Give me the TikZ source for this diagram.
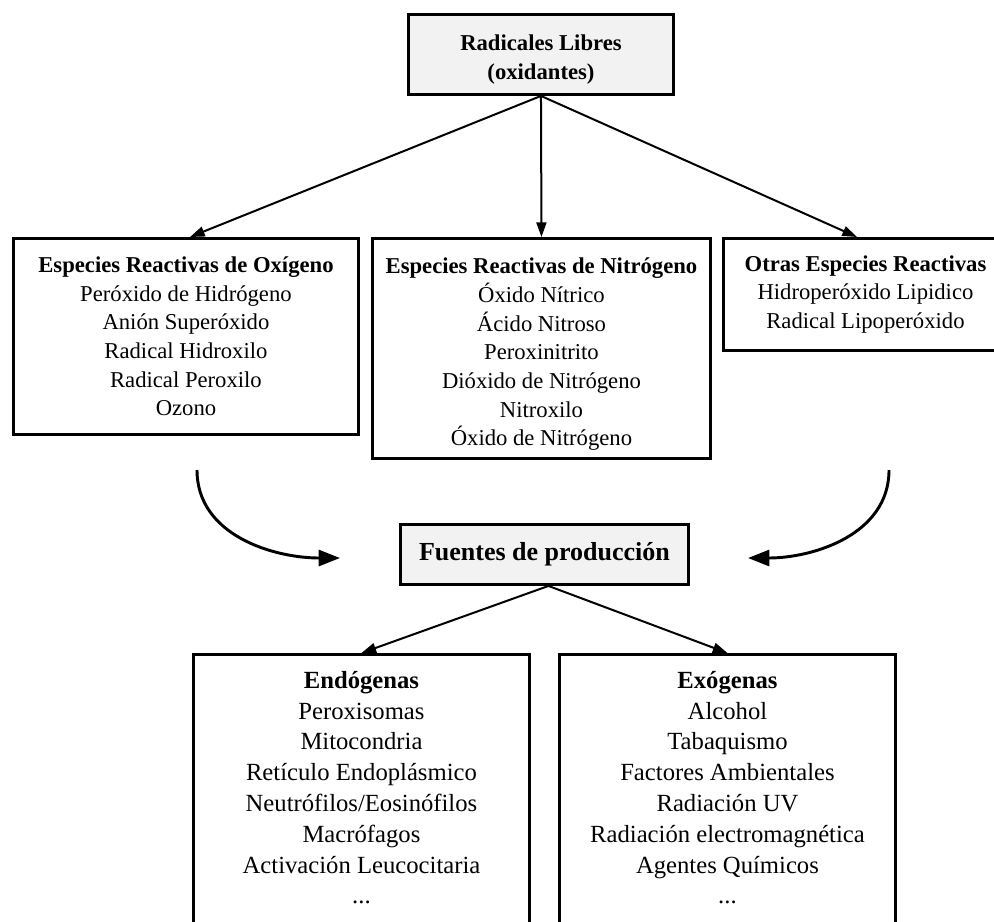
\documentclass[tikz,border=0pt]{standalone}
\usepackage{fontspec}
\setmainfont{Liberation Serif}
\usetikzlibrary{arrows.meta}
\definecolor{boxgray}{HTML}{F2F2F2}
\begin{document}
\begin{tikzpicture}[x=0.75pt,y=-0.75pt,
  box/.style={draw=black, line width=2.2pt, inner sep=0pt, align=center, anchor=north west, fill=white},
  graybox/.style={box, fill=boxgray},
  topfont/.style={font=\fontsize{17}{21.5}\selectfont},
  botfont/.style={font=\fontsize{18.5}{23.1}\selectfont},
  link/.style={line width=1.5pt, -{Triangle[length=11pt,width=7.5pt]}},
  curvearrow/.style={line width=2.2pt, -{Triangle[length=16pt,width=12pt]}}
]
\useasboundingbox (0,0) rectangle (994,921);

\node[graybox, topfont, minimum width=198.75pt, minimum height=60pt] (top) at (407,13)
  {\rule{0pt}{19.5pt}\textbf{Radicales Libres}\\\textbf{(oxidantes)}};

\node[box, topfont, minimum width=258.75pt, minimum height=147pt] (oxi) at (12,237)
  {\textbf{Especies Reactivas de Oxígeno}\\Peróxido de Hidrógeno\\Anión Superóxido\\Radical Hidroxilo\\Radical Peroxilo\\Ozono};

\node[box, topfont, minimum width=253.5pt, minimum height=165pt] (nit) at (371,237)
  {\rule{0pt}{20.5pt}\textbf{Especies Reactivas de Nitrógeno}\\Óxido Nítrico\\Ácido Nitroso\\Peroxinitrito\\Dióxido de Nitrógeno\\Nitroxilo\\Óxido de Nitrógeno};

\node[box, topfont, minimum width=213pt, minimum height=84pt] (otr) at (722,237)
  {\textbf{Otras Especies Reactivas}\\Hidroperóxido Lipidico\\Radical Lipoperóxido};

\node[graybox, font=\fontsize{19.5}{23}\selectfont\bfseries, minimum width=216pt, minimum height=45pt] (fue) at (399,523)
  {Fuentes de producción};

\node[box, botfont, minimum width=252pt, minimum height=205.5pt] (endo) at (192,653)
  {\textbf{Endógenas}\\Peroxisomas\\Mitocondria\\Retículo Endoplásmico\\Neutrófilos/Eosinófilos\\Macrófagos\\Activación Leucocitaria\\...\rule[-6pt]{0pt}{6pt}};

\node[box, botfont, minimum width=252pt, minimum height=205.5pt] (exo) at (558,653)
  {\textbf{Exógenas}\\Alcohol\\Tabaquismo\\Factores Ambientales\\Radiación UV\\Radiación electromagnética\\Agentes Químicos\\...\rule[-6pt]{0pt}{6pt}};

\draw[link] (top.south) -- ([xshift=133.5pt]oxi.north west);
\draw[link] (top.south) -- (nit.north);
\draw[link] (top.south) -- ([xshift=101.25pt]otr.north west);

\draw[link] ([xshift=3pt]fue.south) -- (endo.north);
\draw[link] ([xshift=3pt]fue.south) -- (exo.north);

\coordinate (l1) at (197,470);
\coordinate (l2) at (340,558);
\coordinate (r1) at (889,470);
\coordinate (r2) at (748,558);
\draw[curvearrow] (l1) to[out=-90,in=180] (l2);
\draw[curvearrow] (r1) to[out=-90,in=0] (r2);
\end{tikzpicture}
\end{document}
